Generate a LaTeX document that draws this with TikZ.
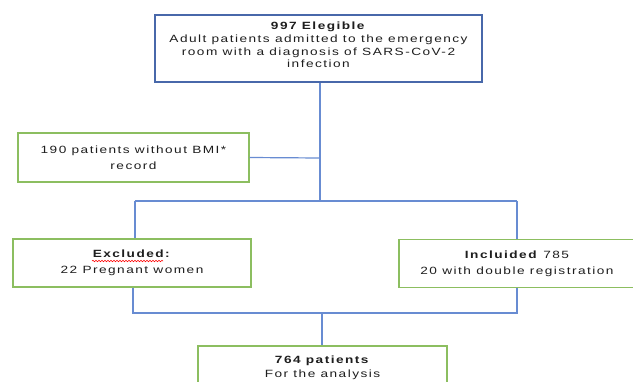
\documentclass[tikz,border=0pt]{standalone}
\usepackage{fontspec}
\setmainfont{Liberation Sans}[LetterSpace=14,FakeStretch=1.3]
\usetikzlibrary{decorations.pathmorphing}
\definecolor{topblue}{RGB}{72,104,170}
\definecolor{lineblue}{RGB}{104,140,210}
\definecolor{boxgreen}{RGB}{140,190,96}
\definecolor{txt}{RGB}{30,30,30}
\tikzset{
  topbox/.style={draw=topblue, line width=1.5pt, rectangle, align=center, text=txt, inner sep=0pt},
  greenbox/.style={draw=boxgreen, line width=1.3pt, rectangle, align=center, text=txt, inner sep=0pt},
  conn/.style={draw=lineblue, line width=1.2pt},
}
\begin{document}
\begin{tikzpicture}[x=1pt,y=-1pt]
\useasboundingbox (0,0) rectangle (633,381);
\fill[white] (0,0) rectangle (633,381);
\begin{scope}
\clip (0,0) rectangle (633,381);
\node[topbox, minimum width=327pt, minimum height=67pt] (elig) at (318.5,48.5) {};
\node[text=txt, align=center, font=\fontsize{10.5}{12.7}\selectfont] (eligtxt) at (318.5,45) {\textbf{997 Elegible}\\Adult patients admitted to the emergency\\room with a diagnosis of SARS-CoV-2\\infection};
\node[greenbox, minimum width=231pt, minimum height=49pt, font=\fontsize{10.5}{16}\selectfont] (bmi) at (133.5,157.5) {190 patients without BMI*\\record};
\node[greenbox, minimum width=238pt, minimum height=48pt, font=\fontsize{10.5}{16}\selectfont] (excl) at (132,263) {\textbf{Excluded:}\\22 Pregnant women};
\node[greenbox, minimum width=236pt, minimum height=48pt, font=\fontsize{10.5}{16}\selectfont] (incl) at (517,263.5) {\textbf{Incluided} 785\\20 with double registration};
\node[greenbox, minimum width=249pt, minimum height=44pt, font=\fontsize{10.5}{14}\selectfont] (final) at (322.5,368) {\textbf{764 patients}\\For the analysis};
\end{scope}
\draw[red, line width=0.6pt, decorate, decoration={snake, amplitude=0.7pt, segment length=3pt}] ([shift={(-40,-2)}]excl.center) -- ([shift={(31,-2)}]excl.center);
\coordinate (j1) at (320,158);
\coordinate (j2) at (320,201);
\coordinate (bl) at (135,201);
\coordinate (br) at (517,201);
\coordinate (cl) at (133,313);
\coordinate (cr) at (517,313);
\coordinate (cm) at (322,313);
\draw[conn] (elig.south -| j2) -- (j2);
\draw[conn] (bmi.east) -- (j1);
\draw[conn] (bl) -- (br);
\draw[conn] (bl) -- (bl |- excl.north);
\draw[conn] (br) -- (br |- incl.north);
\draw[conn] (cl |- excl.south) -- (cl) -- (cr) -- (cr |- incl.south);
\draw[conn] (cm) -- (cm |- final.north);
\end{tikzpicture}
\end{document}
